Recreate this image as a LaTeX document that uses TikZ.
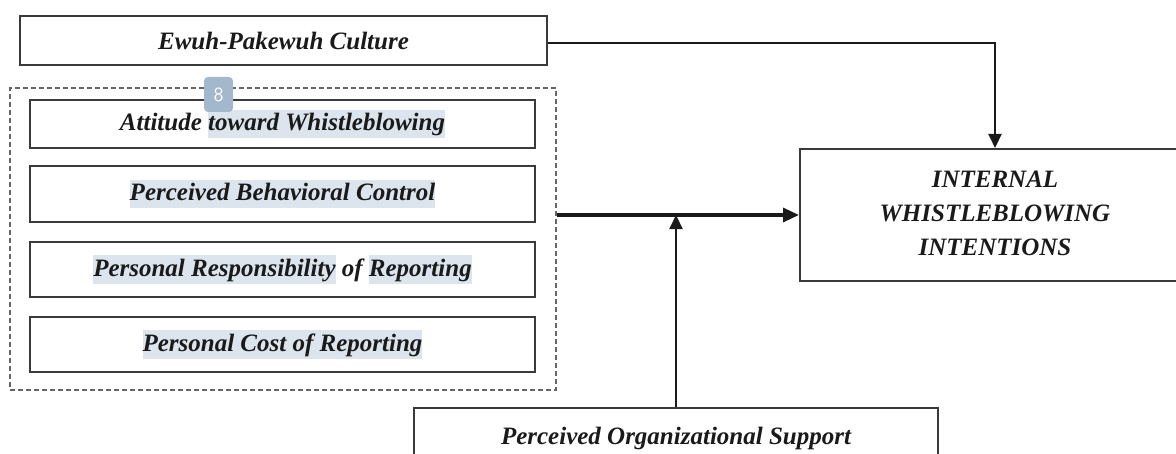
\documentclass[tikz,border=0pt]{standalone}
\usepackage{fontspec}
\setmainfont{Liberation Serif}
\usetikzlibrary{arrows.meta,calc}
\definecolor{hlc}{HTML}{DCE5EE}
\definecolor{badge}{HTML}{A3B8CC}
\definecolor{ink}{HTML}{1A1A1A}
\definecolor{edge}{HTML}{3A3A3A}
\newcommand{\hlbox}[1]{{\setlength{\fboxsep}{0pt}\colorbox{hlc}{\rule[-0.3em]{0pt}{1.15em}#1}}}
\begin{document}
\begin{tikzpicture}[x=0.5pt,y=-0.5pt,
  box/.style={draw=edge,line width=1pt,rectangle,inner sep=0pt,text=ink,
    font=\fontsize{12.5}{17}\selectfont\bfseries\itshape},
  grpbox/.style={draw=gray!80!black,line width=0.7pt,dash pattern=on 2.5pt off 1.5pt,rectangle,inner sep=0pt},
  conn/.style={draw=ink,line width=1pt,-{Triangle[length=7pt,width=6.5pt]}},
  thick conn/.style={draw=ink,line width=1.6pt,-{Triangle[length=8pt,width=7pt]}}
]
\useasboundingbox (0,0) rectangle (1176,454);
\fill[white] (0,0) rectangle (1176,454);

\node[box,minimum width=263.5pt,minimum height=24.5pt] (ewuh) at (283.5,41) {Ewuh-Pakewuh Culture};

\node[grpbox,minimum width=273pt,minimum height=151pt] (grp) at (283,239) {};

\node[box,minimum width=252.5pt,minimum height=24pt] (att) at (282.5,124) {Attitude \hlbox{toward Whistleblowing}};
\node[box,minimum width=252.5pt,minimum height=28pt] (pbc) at (282.5,194) {\hlbox{Perceived Behavioral Control}};
\node[box,minimum width=252.5pt,minimum height=27.5pt] (prr) at (282.5,269.5) {\hlbox{Personal Responsibility} of \hlbox{Reporting}};
\node[box,minimum width=252.5pt,minimum height=27.5pt] (pcr) at (282.5,344.5) {\hlbox{Personal Cost of Reporting}};

\node[box,minimum width=195pt,minimum height=66pt] (iwi) at (995,215)
  {\raisebox{2.5pt}{\begin{tabular}{@{}c@{}}INTERNAL\\WHISTLEBLOWING\\INTENTIONS\end{tabular}}};

\node[box,minimum width=262pt,minimum height=30pt] (pos) at (676,438) {Perceived Organizational Support};

\node[fill=badge,rounded corners=2pt,minimum width=14.5pt,minimum height=17.5pt,inner sep=0pt,
  text=white,font=\sffamily\fontsize{10}{12}\selectfont] (badge8) at (218.5,94.5) {8};

\draw[conn] ([yshift=-1pt]ewuh.east) -| (iwi.north);
\coordinate (jn) at (grp.east |- iwi.west);
\draw[thick conn] (jn) -- (iwi.west);
\coordinate (mid) at (pos.north |- iwi.west);
\draw[conn] (pos.north) -- (mid);
\end{tikzpicture}
\end{document}
